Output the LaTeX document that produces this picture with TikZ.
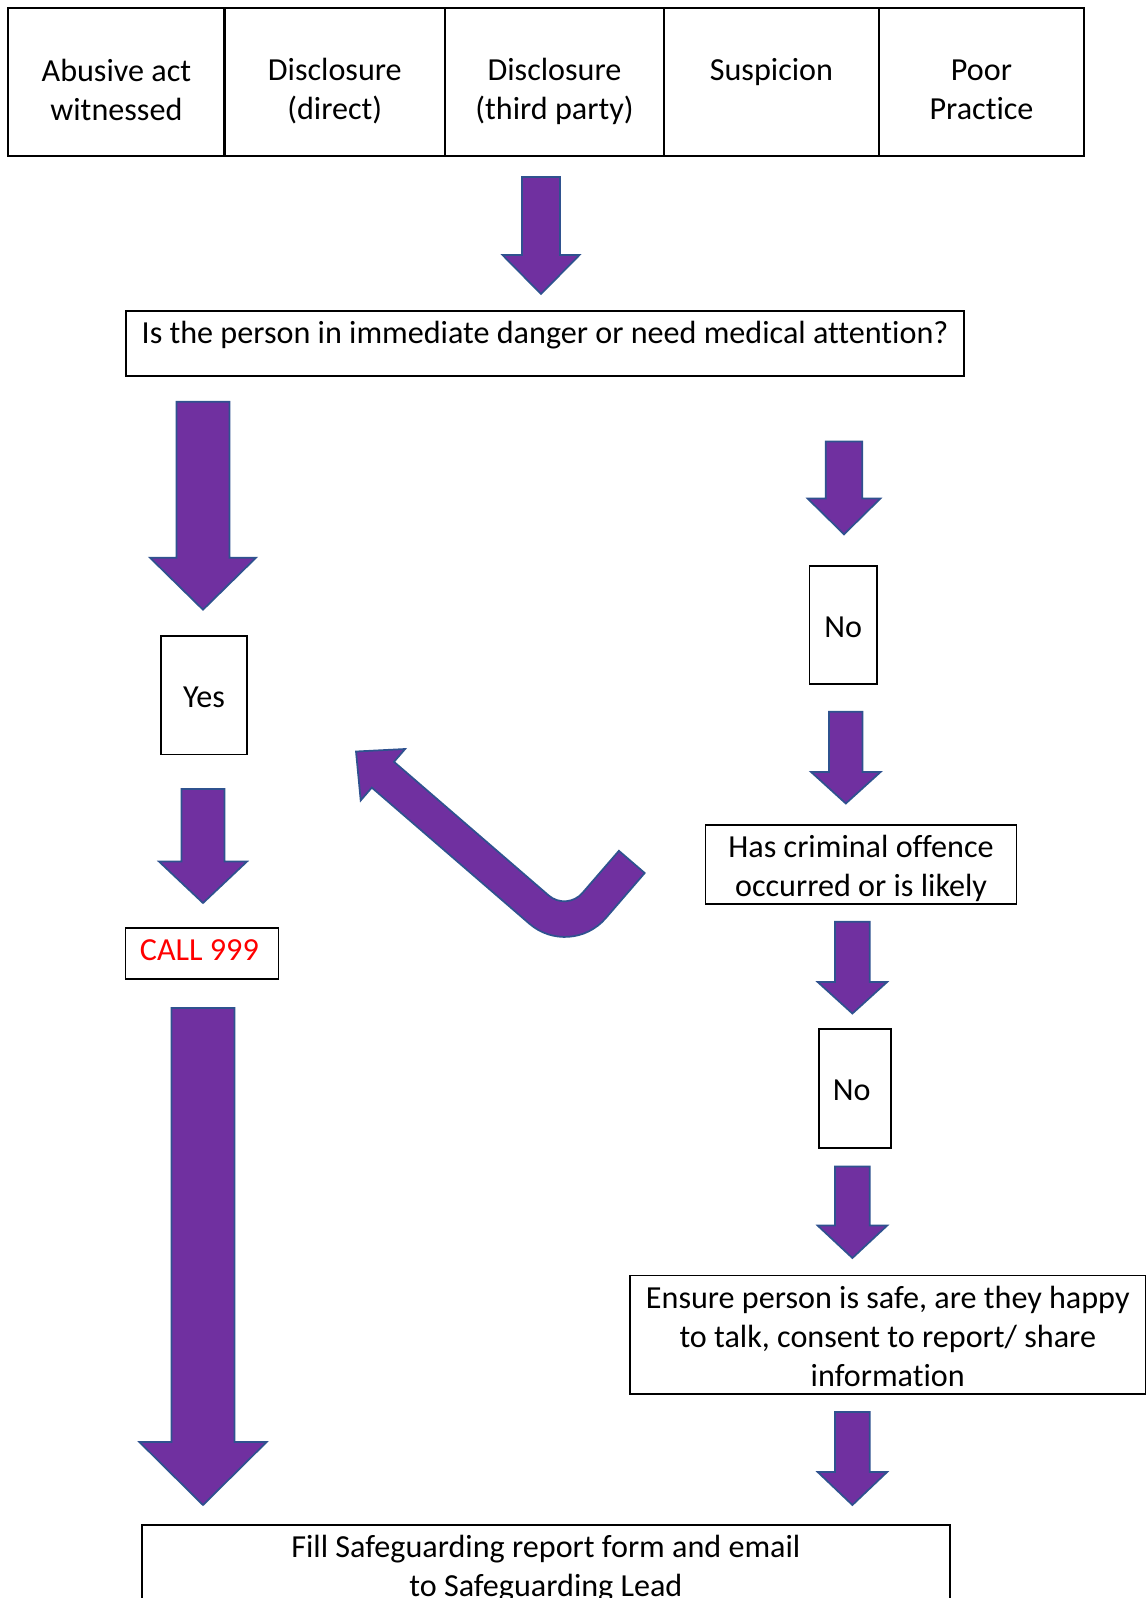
\documentclass[tikz,border=0pt]{standalone}
\usepackage{fontspec}
\setmainfont{Carlito}[Ligatures=NoCommon]
\usetikzlibrary{fit}
\definecolor{arrfill}{HTML}{7030A0}
\definecolor{arrline}{HTML}{2F528F}
\definecolor{callred}{HTML}{FF0000}
\tikzset{
  box/.style={draw=black, line width=1.2pt, inner sep=0pt},
  cell/.style={draw=black, line width=1.7pt, inner sep=0pt},
  txt/.style={font=\fontsize{24.1}{29.3}\selectfont, align=center, inner sep=0pt},
  blockarrow/.style={fill=arrfill, draw=arrline, line width=1.3pt, line join=miter},
}
% #1 cx, #2 top, #3 shaft half width, #4 head base y, #5 head half width, #6 tip y
\newcommand\blockdown[6]{%
  \filldraw[blockarrow] (#1-#3,#2) -- (#1+#3,#2) -- (#1+#3,#4) -- (#1+#5,#4) -- (#1,#6)
    -- (#1-#5,#4) -- (#1-#3,#4) -- cycle;}
\begin{document}
\begin{tikzpicture}[x=0.75pt,y=-0.75pt]
\clip (0,0) rectangle (1147,1598);
\useasboundingbox (0,0) rectangle (1147,1598);
\fill[white] (0,0) rectangle (1147,1598);

% top row of cells
\node[cell, fit={(8.2,7.8) (224.5,156)}] (c1) {};
\node[cell, fit={(224.5,7.8) (445,156)}] (c2) {};
\node[cell, fit={(445,7.8) (664,156)}] (c3) {};
\node[cell, fit={(664,7.8) (879,156)}] (c4) {};
\node[cell, fit={(879,7.8) (1084,156)}] (c5) {};
\node[txt] (t1) at (116.4,90) {Abusive act\\witnessed};
\node[txt] (t2) at (334.8,91) {Disclosure\\(direct)};
\node[txt] (t3) at (554.5,91) {Disclosure\\(third party)};
\node[txt] (t4) at (771.5,72) {Suspicion};
\node[txt] (t5) at (981.5,89.5) {Poor\\Practice};

% question
\node[box, fit={(126,311) (964,376)}] (q) {};
\node[txt] (qt) at (545,335) {Is the person in immediate danger or need medical attention?};

% left column
\node[box, fit={(161,636) (247,754.5)}] (yes) {};
\node[txt] (yest) at ([yshift=-1.5pt]yes.center) {Yes};
\node[box, fit={(125.4,928) (278.4,979)}] (call) {};
\node[txt, text=callred] (callt) at ([xshift=-1.9pt,yshift=2.2pt]call.center) {CALL 999};

% right column
\node[box, fit={(809.5,566) (877,684)}] (no1) {};
\node[txt] (no1t) at ([yshift=-1.5pt]no1.center) {No};
\node[box, fit={(705.6,825) (1016.5,904)}] (crim) {};
\node[txt] (crimt) at ([yshift=-3pt]crim.center) {Has criminal offence\\occurred or is likely};
\node[box, fit={(818.7,1029) (891,1148)}] (no2) {};
\node[txt] (no2t) at ([xshift=-2.3pt,yshift=-1.5pt]no2.center) {No};
\node[box, fit={(630,1275.5) (1145.5,1394)}] (ens) {};
\node[txt] (enst) at ([yshift=-1.5pt]ens.center) {Ensure person is safe, are they happy\\to talk, consent to report/ share\\information};

% bottom
\node[box, fit={(141.7,1525) (950,1650)}] (fill) {};
\node[txt] (fillt) at (545.9,1569) {Fill Safeguarding report form and email\\to Safeguarding Lead};

% block arrows
\blockdown{541}{177}{19}{255}{38.5}{294}
\blockdown{203}{401.7}{26.5}{557.7}{53}{609.7}
\blockdown{203}{789}{21.4}{861.5}{44}{903}
\blockdown{203}{1008}{31.6}{1442}{63.6}{1505}
\blockdown{844}{441.5}{18.3}{498.6}{36.3}{534.3}
\blockdown{845.8}{711.7}{16.8}{772}{34.7}{803.5}
\blockdown{852.4}{921.7}{17.3}{982}{34.7}{1013.5}
\blockdown{852.4}{1166.4}{17.3}{1225.6}{34.7}{1258}
\blockdown{852.4}{1412}{17.3}{1472}{34.7}{1505}

% bent arrow (L-shaped with rounded bend)
\filldraw[blockarrow] (644.7,873.0) -- (618.9,850.8) -- (582.5,892.9)
  .. controls (573.8,903.0) and (558.7,904.1) .. (548.6,895.4)
  -- (394.0,761.8) -- (405.1,749.0) -- (356.0,751.5) -- (360.7,800.4) -- (371.8,787.6)
  -- (529.5,923.8) .. controls (552.1,943.3) and (586.2,940.8) .. (605.7,918.2)
  -- cycle;
\end{tikzpicture}
\end{document}
